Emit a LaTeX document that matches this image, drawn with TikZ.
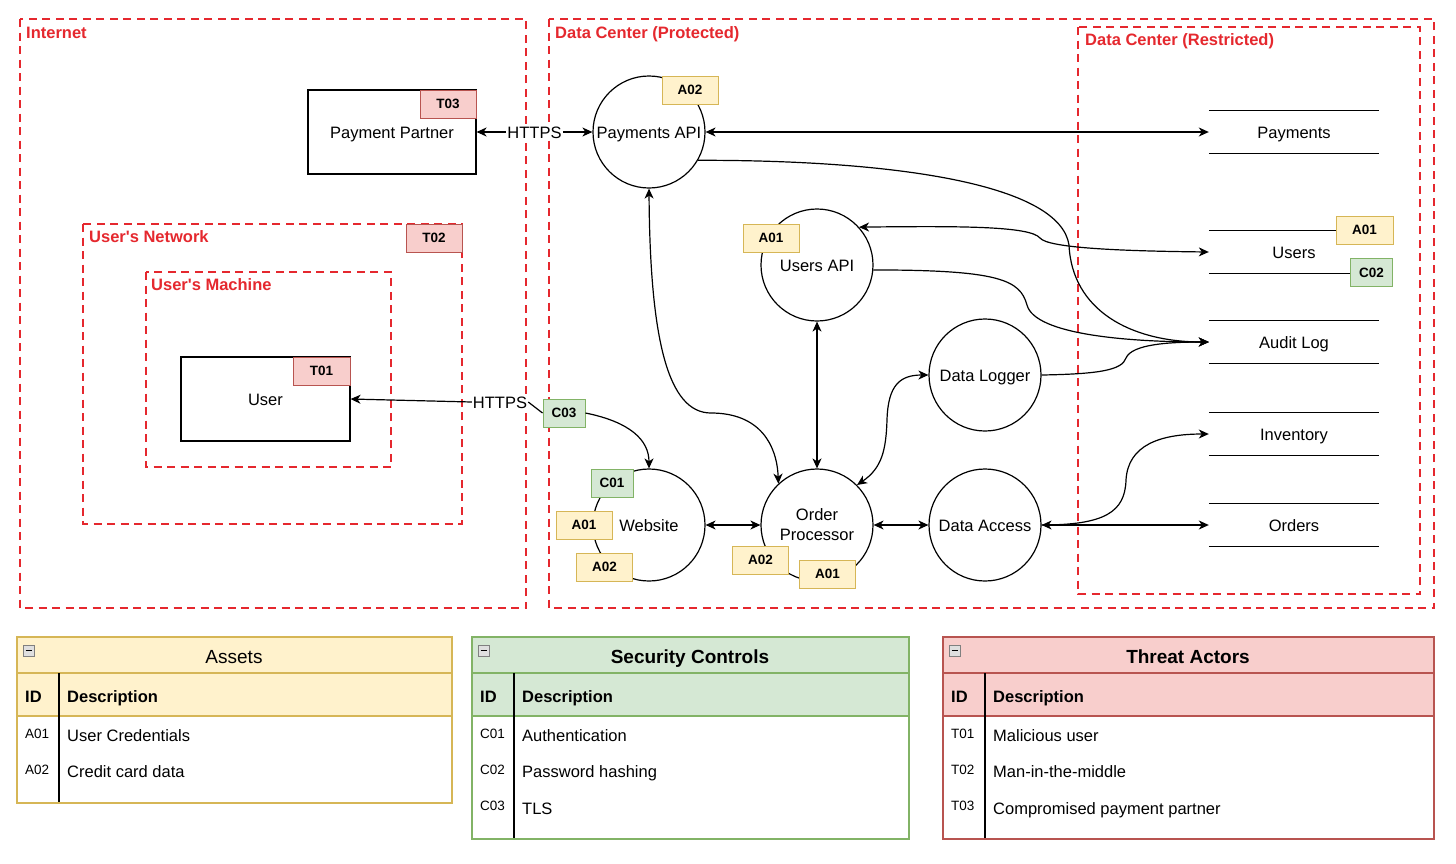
\documentclass[tikz,border=0pt]{standalone}
\usepackage{fontspec}
\setmainfont{Liberation Sans}[Ligatures=TeXOff]
\usetikzlibrary{arrows.meta}
\definecolor{zred}{RGB}{229,40,46}
\definecolor{yfill}{HTML}{FFF2CC}
\definecolor{ybord}{HTML}{D6B656}
\definecolor{gfill}{HTML}{D5E8D4}
\definecolor{gbord}{HTML}{82B366}
\definecolor{rfill}{HTML}{F8CECC}
\definecolor{rbord}{HTML}{B85450}
\begin{document}
\begin{tikzpicture}[x=1pt,y=-1pt,
  >={Stealth[length=10pt,width=9pt,inset=3pt]},
  every node/.style={font=\fontsize{16.5}{20}\selectfont},
  tx/.style={text height=12pt, text depth=0pt},
  zone/.style={draw=zred, line width=2.3pt, dash pattern=on 8pt off 5.5pt},
  zlabel/.style={anchor=west, inner sep=0, tx, text=zred, font=\fontsize{16.5}{20}\selectfont\bfseries},
  proc/.style={circle, draw, line width=1.2pt, minimum size=112pt, inner sep=0, fill=white},
  actor/.style={draw, line width=1.1pt, minimum width=168pt, minimum height=84pt, inner sep=0, fill=white, tx},
  store/.style={minimum width=170pt, minimum height=42pt, inner sep=0, tx},
  conn/.style={line width=1.2pt},
  tagbase/.style={draw, line width=1pt, minimum height=28pt, minimum width=56pt, inner sep=0, text height=9.8pt, text depth=0pt, font=\fontsize{13.5}{15}\selectfont\bfseries},
  tagA/.style={tagbase, fill=yfill, draw=ybord},
  tagC/.style={tagbase, fill=gfill, draw=gbord, minimum width=42pt},
  tagT/.style={tagbase, fill=rfill, draw=rbord},
  lbl/.style={fill=white, inner sep=1pt, tx},
  thead/.style={anchor=west, inner sep=0, tx, font=\fontsize{16.5}{20}\selectfont\bfseries},
  tid/.style={anchor=west, inner sep=0, text height=9.8pt, text depth=0pt, font=\fontsize{13.5}{16}\selectfont},
  tdesc/.style={anchor=west, inner sep=0, tx},
  ttitle/.style={inner sep=0, text height=13.6pt, text depth=0pt, font=\fontsize{19}{22}\selectfont},
  minusbox/.style={draw=gray, fill=gray!25, line width=0.6pt}
]
\useasboundingbox (0,0) rectangle (1456,863);
\fill[white] (0,0) rectangle (1456,863);

% ---------- zones ----------
\draw[zone] (20,19) rectangle (526,608);
\node[zlabel] (zint) at (26,32) {Internet};
\draw[zone] (549,19) rectangle (1434,608);
\node[zlabel] (zdcp) at (555,32) {Data Center (Protected)};
\draw[zone] (1078,27) rectangle (1420,594);
\node[zlabel] (zdcr) at (1085,39) {Data Center (Restricted)};
\draw[zone] (83,224) rectangle (462,524);
\node[zlabel] (znet) at (89,236) {User's Network};
\draw[zone] (146,272) rectangle (391,467);
\node[zlabel] (zmac) at (151,284) {User's Machine};

% ---------- actors ----------
\node[actor] (pp) at (392,132) {Payment Partner};
\node[actor, minimum width=169pt] (user) at (265.5,399) {User};

% ---------- processes ----------
\node[proc, tx] (pay) at (649,132) {Payments API};
\node[proc, tx] (ua) at (817,265) {Users API};
\node[proc, tx] (dl) at (985,375) {Data Logger};
\node[proc, tx] (web) at (649,525) {Website};
\node[proc, align=center] (op) at (817,525) {Order\\Processor};
\node[proc, tx] (da) at (985,525) {Data Access};

% ---------- stores ----------
\node[store] (pst) at (1294,132) {Payments};
\node[store] (ust) at (1294,252) {Users};
\node[store] (al) at (1294,342) {Audit Log};
\node[store] (ist) at (1294,434) {Inventory};
\node[store] (ost) at (1294,525) {Orders};
\foreach \s in {pst,ust,al,ist,ost}{
  \draw[conn] (\s.north west) -- (\s.north east) (\s.south west) -- (\s.south east);
}

% ---------- tag and label on the User connector ----------
\node[tagC] (c03) at (564,413) {C03};
\node[lbl] (https2) at (500,402) {HTTPS};

% ---------- connectors ----------
\draw[conn,<->] (pp.east) -- node[lbl] (https1) {HTTPS} (pay.west);
\draw[conn,<->] (pay.east) -- (pst.west);
\draw[conn,->] (pay.-30) .. controls (900,160) and (1060,185) .. (1069,245)
  .. controls (1072,310) and (1130,342) .. (al.west);
\draw[conn,<->] (ua.42) .. controls (960,226) and (1030,226) .. (1040,238)
  .. controls (1048,248) and (1120,251) .. (ust.west);
\draw[conn,->] (ua.-5) .. controls (1000,270) and (1020,280) .. (1027,305)
  .. controls (1035,335) and (1130,342) .. (al.west);
\draw[conn,->] (dl.east) .. controls (1100,374) and (1122,370) .. (1126,358)
  .. controls (1132,344) and (1170,342) .. (al.west);
\draw[conn,<->] (pay.south) .. controls (650,340) and (668,413) .. (711,413)
  .. controls (760,413) and (777,445) .. (op.133);
\draw[conn,<->] (ua.south) -- (op.north);
\draw[conn,<->] (op.45) .. controls (882,468) and (886,450) .. (887,420)
  .. controls (888,385) and (900,375) .. (dl.west);
\draw[conn,<->] (web.east) -- (op.west);
\draw[conn,<->] (op.east) -- (da.west);
\draw[conn,<->] (da.east) -- (ost.west);
\draw[conn,->] (da.east) .. controls (1105,525) and (1125,512) .. (1126,480)
  .. controls (1128,445) and (1160,434) .. (ist.west);
\draw[conn] (c03.west) -- (https2.east);
\draw[conn,->] (https2.west) -- (user.east);
\draw[conn,->] (c03.east) .. controls (630,422) and (649,440) .. (web.north);

% ---------- tags ----------
\node[tagT] (t03) at (448,104) {T03};
\node[tagT] (t02) at (434,238) {T02};
\node[tagT, minimum width=57pt] (t01) at (321.5,371) {T01};
\node[tagA] (a02p) at (690,90) {A02};
\node[tagA] (a01u) at (771,238) {A01};
\node[tagA, minimum width=57pt] (a01s) at (1364.5,230) {A01};
\node[tagC] (c02) at (1371.5,272.5) {C02};
\node[tagC] (c01) at (612,483) {C01};
\node[tagA] (a01w) at (584,525) {A01};
\node[tagA] (a02w) at (604.5,567) {A02};
\node[tagA] (a02o) at (760.5,560) {A02};
\node[tagA] (a01o) at (827.5,574) {A01};

% ---------- table: Assets ----------
\fill[yfill] (17,637) rectangle (452,716);
\draw[ybord, line width=1.2pt] (17,673) -- (452,673) (17,716) -- (452,716);
\draw[line width=1.2pt] (59,673) -- (59,803);
\draw[ybord, line width=1.4pt] (17,637) rectangle (452,803);
\draw[minusbox] (23,645) rectangle (34,656);
\draw[line width=0.9pt] (25.5,650.5) -- (31.5,650.5);
\node[ttitle] (tas) at (234,657) {Assets};
\node[thead] (tash1) at (25,696) {ID};
\node[thead] (tash2) at (67,696) {Description};
\node[tid] (tasi1) at (25,734) {A01};
\node[tdesc] (tasd1) at (67,735) {User Credentials};
\node[tid] (tasi2) at (25,770) {A02};
\node[tdesc] (tasd2) at (67,771) {Credit card data};

% ---------- table: Security Controls ----------
\fill[gfill] (472,637) rectangle (909,716);
\draw[gbord, line width=1.2pt] (472,673) -- (909,673) (472,716) -- (909,716);
\draw[line width=1.2pt] (514,673) -- (514,839);
\draw[gbord, line width=1.4pt] (472,637) rectangle (909,839);
\draw[minusbox] (478,645) rectangle (489,656);
\draw[line width=0.9pt] (480.5,650.5) -- (486.5,650.5);
\node[ttitle, font=\fontsize{19}{22}\selectfont\bfseries] (tsc) at (690,657) {Security Controls};
\node[thead] (tsch1) at (480,696) {ID};
\node[thead] (tsch2) at (522,696) {Description};
\node[tid] (tsci1) at (480,734) {C01};
\node[tdesc] (tscd1) at (522,735) {Authentication};
\node[tid] (tsci2) at (480,770) {C02};
\node[tdesc] (tscd2) at (522,771) {Password hashing};
\node[tid] (tsci3) at (480,806) {C03};
\node[tdesc] (tscd3) at (522,808) {TLS};

% ---------- table: Threat Actors ----------
\fill[rfill] (943,637) rectangle (1434,716);
\draw[rbord, line width=1.2pt] (943,673) -- (1434,673) (943,716) -- (1434,716);
\draw[line width=1.2pt] (985,673) -- (985,839);
\draw[rbord, line width=1.4pt] (943,637) rectangle (1434,839);
\draw[minusbox] (949,645) rectangle (960,656);
\draw[line width=0.9pt] (951.5,650.5) -- (957.5,650.5);
\node[ttitle, font=\fontsize{19}{22}\selectfont\bfseries] (tta) at (1188,657) {Threat Actors};
\node[thead] (tah1) at (951,696) {ID};
\node[thead] (tah2) at (993,696) {Description};
\node[tid] (tai1) at (951,734) {T01};
\node[tdesc] (tad1) at (993,735) {Malicious user};
\node[tid] (tai2) at (951,770) {T02};
\node[tdesc] (tad2) at (993,771) {Man-in-the-middle};
\node[tid] (tai3) at (951,806) {T03};
\node[tdesc] (tad3) at (993,808) {Compromised payment partner};
\end{tikzpicture}
\end{document}
